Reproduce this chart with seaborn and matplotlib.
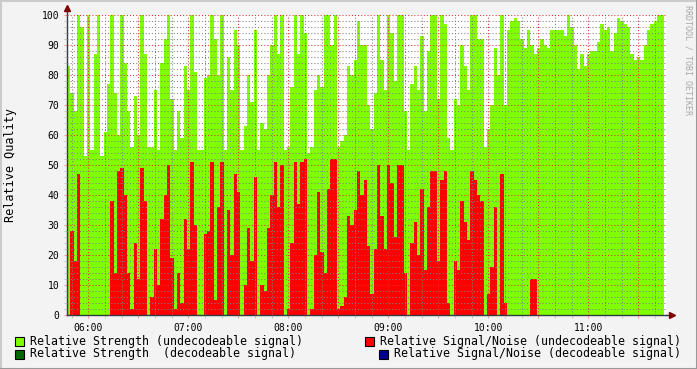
import numpy as np
import pandas as pd
import matplotlib
matplotlib.use("Agg")
import matplotlib.pyplot as plt
import seaborn as sns
from matplotlib.ticker import MultipleLocator, FuncFormatter
from matplotlib.patches import Rectangle
from matplotlib.lines import Line2D

# ---------------- data ----------------
start_minutes = 5 * 60 + 47.2      # 05:47:12
step_minutes = 2

strength_undecodeable = [
    83, 74, 68, 100, 96, 53, 100, 55, 87, 100, 53, 61, 77, 100, 74, 60, 100, 84, 68, 56, 73, 60, 100, 87, 56, 56, 75, 55, 84, 92,
    100, 72, 55, 68, 59, 83, 75, 100, 81, 55, 55, 79, 80, 100, 92, 80, 100, 55, 86, 75, 95, 90, 55, 63, 80, 71, 95, 55, 64, 62,
    80, 90, 100, 87, 100, 55, 56, 76, 100, 87, 100, 94, 54, 56, 75, 80, 76, 100, 100, 90, 100, 56, 58, 60, 83, 80, 85, 98, 90, 90,
    70, 62, 74, 100, 85, 75, 100, 94, 78, 100, 100, 68, 55, 77, 83, 75, 93, 68, 88, 100, 100, 72, 100, 97, 59, 55, 72, 70, 90, 83,
    75, 100, 100, 92, 92, 56, 62, 70, 89, 80, 100, 70, 95, 98, 99, 98, 92, 89, 95, 90, 87, 89, 92, 90, 89, 95, 95, 95, 95, 93,
    100, 96, 90, 82, 87, 83, 87, 88, 88, 91, 97, 95, 96, 88, 94, 99, 98, 97, 96, 87, 85, 86, 85, 90, 95, 97, 98, 100, 100,
]
snr_undecodeable = [
    0, 28, 18, 47, 0, 0, 0, 0, 0, 0, 0, 0, 0, 38, 14, 48, 49, 40, 14, 2, 24, 12, 49, 38, 0, 6, 22, 10, 32, 40,
    50, 19, 2, 14, 4, 32, 22, 51, 30, 0, 0, 27, 28, 51, 5, 36, 51, 0, 35, 20, 47, 41, 0, 10, 29, 18, 46, 0, 10, 8,
    29, 40, 51, 36, 50, 0, 2, 24, 51, 37, 51, 52, 0, 2, 20, 41, 21, 14, 42, 52, 52, 2, 3, 6, 33, 30, 35, 48, 40, 45,
    23, 7, 22, 50, 33, 22, 50, 44, 26, 50, 50, 14, 0, 24, 31, 20, 42, 15, 36, 48, 48, 18, 45, 48, 4, 0, 18, 15, 38, 31,
    25, 48, 45, 40, 38, 0, 7, 16, 36, 0, 47, 4, 0, 0, 0, 0, 0, 0, 0, 12, 12, 0, 0, 0, 0, 0, 0, 0, 0, 0,
    0, 0, 0, 0, 0, 0, 0, 0, 0, 0, 0, 0, 0, 0, 0, 0, 0, 0, 0, 0, 0, 0, 0, 0, 0, 0, 0, 0, 0,
]

hour_labels = ["06:00", "07:00", "08:00", "09:00", "10:00", "11:00"]
y_ticks = [0, 10, 20, 30, 40, 50, 60, 70, 80, 90, 100]
legend_labels = [
    "Relative Strength (undecodeable signal)",
    "Relative Signal/Noise (undecodeable signal)",
    "Relative Strength  (decodeable signal)",
    "Relative Signal/Noise (decodeable signal)",
]

# ---------------- style ----------------
C_GREEN = "#7FFF00"
C_RED = "#FF0000"
C_DGREEN = "#006600"
C_BLUE = "#000090"
C_BACK = "#F3F3F3"
C_GRID = (0.5, 0.5, 0.5, 0.35)
C_MGRID = (0.87, 0.19, 0.19, 0.42)
C_ARROW = "#7F0000"
C_AXIS = "#2C3D43"

sns.set_theme(style="white")
plt.rcParams["font.family"] = ["DejaVu Sans Mono", "DejaVu Sans"]

fig = plt.figure(figsize=(6.97, 3.69), dpi=100, facecolor=C_BACK)
ax = fig.add_axes([67 / 697, (369 - 315) / 369, 599 / 697, 300 / 369])
ax.set_facecolor("white")

n = len(strength_undecodeable)
edges = [start_minutes + step_minutes * i for i in range(n + 1)]
centers = [e + step_minutes / 2 for e in edges[:-1]]
df = pd.DataFrame({"t": centers, "strength": strength_undecodeable, "snr": snr_undecodeable})

sns.histplot(data=df, x="t", weights="strength", bins=edges, element="step",
             fill=True, color=C_GREEN, alpha=1, linewidth=0, ax=ax)
sns.histplot(data=df, x="t", weights="snr", bins=edges, element="step",
             fill=True, color=C_RED, alpha=1, linewidth=0, ax=ax)

ax.set_xlim(start_minutes, start_minutes + 599 * 0.6)
ax.set_ylim(0, 100)

hour_minutes = [int(h[:2]) * 60 for h in hour_labels]
ax.xaxis.set_major_locator(MultipleLocator(30))
ax.xaxis.set_minor_locator(MultipleLocator(10))
ax.xaxis.set_major_formatter(FuncFormatter(
    lambda v, p: hour_labels[hour_minutes.index(int(round(v)))] if int(round(v)) in hour_minutes else ""))
ax.yaxis.set_minor_locator(MultipleLocator(2))
ax.set_yticks(y_ticks)
ax.set_yticklabels([str(v) for v in y_ticks])

ax.set_axisbelow(False)
ax.grid(which="major", color=C_MGRID, linestyle=(0, (1, 2)), linewidth=0.75)
ax.grid(which="minor", color=C_GRID, linestyle=(0, (1, 2)), linewidth=0.75)
ax.tick_params(axis="both", which="major", direction="out", length=2.5, width=0.8,
               color=C_MGRID, labelsize=7, labelcolor="black", pad=3,
               bottom=True, left=True)
ax.tick_params(axis="both", which="minor", direction="out", length=2.5, width=0.8,
               color=C_GRID, bottom=True, left=True)

for s in ["top", "right"]:
    ax.spines[s].set_visible(False)
ax.spines["left"].set_color(C_AXIS)
ax.spines["bottom"].set_color(C_AXIS)
ax.spines["left"].set_linewidth(1)
ax.spines["bottom"].set_linewidth(1)

ax.set_xlabel("")
ax.set_ylabel("Relative Quality", fontsize=8.5, color="black")
ax.yaxis.set_label_coords(-0.083, 0.5)

# axis extensions and arrows
ax.plot([0, 0], [1.0, 1.02], transform=ax.transAxes, color=C_AXIS, lw=1, clip_on=False)
ax.plot([1.0, 1.005], [0, 0], transform=ax.transAxes, color=C_AXIS, lw=1, clip_on=False)
ax.plot([0], [1.025], transform=ax.transAxes, marker="^", markersize=4.5,
        color=C_ARROW, clip_on=False, zorder=5)
ax.plot([1.0105], [0], transform=ax.transAxes, marker=">", markersize=4.5,
        color=C_ARROW, clip_on=False, zorder=5)

# legend
legend_colors = [C_GREEN, C_RED, C_DGREEN, C_BLUE]
legend_pos = [(15, 341), (365, 341), (15, 354), (379, 354)]
for lab, col, (px, py) in zip(legend_labels, legend_colors, legend_pos):
    fig.add_artist(Rectangle((px / 697, (369 - py - 4.5) / 369), 9 / 697, 9 / 369,
                             transform=fig.transFigure, facecolor=col,
                             edgecolor="black", linewidth=0.8))
    fig.text((px + 15) / 697, (369 - py) / 369, lab, fontsize=8.4,
             ha="left", va="center", color="black")

# watermark
fig.text(688 / 697, 1 - 5 / 369, "RRDTOOL / TOBI OETIKER", rotation=270,
         fontsize=6, color="#A8A8A8", ha="center", va="top")

# frame shading
fig.add_artist(Line2D([0, 1], [1 - 0.5 / 369] * 2, transform=fig.transFigure, color="#CBCBCB", lw=1.5))
fig.add_artist(Line2D([0.5 / 697] * 2, [0, 1], transform=fig.transFigure, color="#CBCBCB", lw=1.5))
fig.add_artist(Line2D([0, 1], [0.5 / 369] * 2, transform=fig.transFigure, color="#999999", lw=1.5))
fig.add_artist(Line2D([1 - 0.5 / 697] * 2, [0, 1], transform=fig.transFigure, color="#999999", lw=1.5))

fig.savefig("out.png", dpi=100, facecolor=C_BACK)
